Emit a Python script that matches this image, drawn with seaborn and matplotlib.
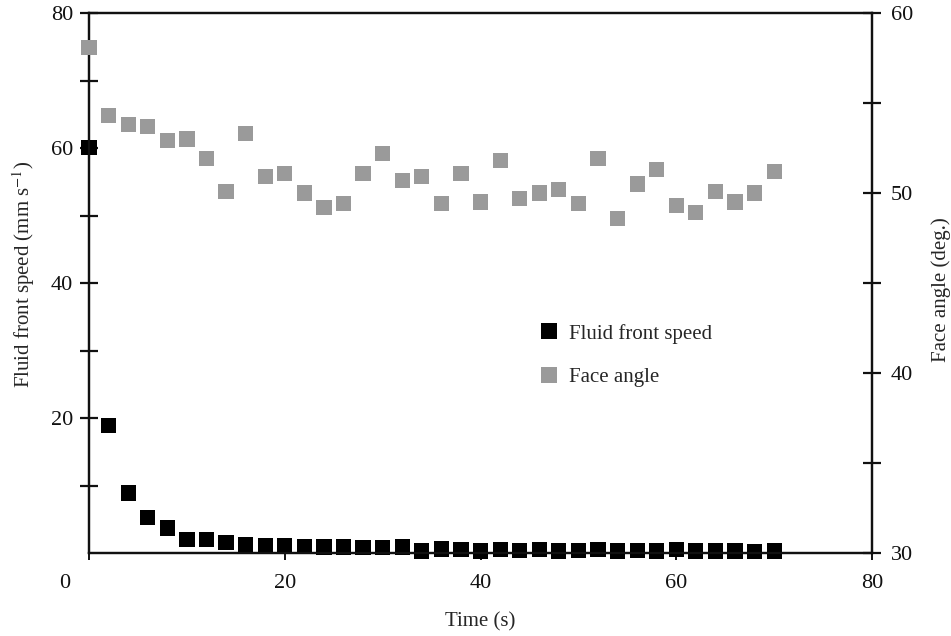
import matplotlib
matplotlib.use("Agg")
import matplotlib.pyplot as plt
import matplotlib.transforms as mtransforms
from matplotlib.ticker import FixedLocator
from matplotlib.lines import Line2D
import seaborn as sns
import pandas as pd

# ---- data ----
time_s = [0, 2, 4, 6, 8, 10, 12, 14, 16, 18, 20, 22, 24, 26, 28, 30, 32, 34,
          36, 38, 40, 42, 44, 46, 48, 50, 52, 54, 56, 58, 60, 62, 64, 66, 68, 70]
front_speed = [60.1, 18.9, 8.9, 5.3, 3.7, 2.0, 2.0, 1.5, 1.3, 1.1, 1.1, 1.0,
               0.9, 0.9, 0.8, 0.8, 0.9, 0.3, 0.6, 0.5, 0.3, 0.5, 0.4, 0.5,
               0.3, 0.4, 0.5, 0.3, 0.4, 0.3, 0.5, 0.3, 0.3, 0.3, 0.2, 0.3]
face_angle = [58.1, 54.3, 53.8, 53.7, 52.9, 53.0, 51.9, 50.1, 53.3, 50.9,
              51.1, 50.0, 49.2, 49.4, 51.1, 52.2, 50.7, 50.9, 49.4, 51.1,
              49.5, 51.8, 49.7, 50.0, 50.2, 49.4, 51.9, 48.6, 50.5, 51.3,
              49.3, 48.9, 50.1, 49.5, 50.0, 51.2]
x_ticks = [0, 20, 40, 60, 80]
left_ticks = [20, 40, 60, 80]
right_ticks = [30, 40, 50, 60]
series_names = ["Fluid front speed", "Face angle"]
x_label = "Time (s)"
left_label = "Fluid front speed (mm s$^{-1}$)"
right_label = "Face angle (deg.)"

df = pd.DataFrame({"t": time_s, "speed": front_speed, "angle": face_angle})

sns.set_style("ticks")
plt.rcParams['font.family'] = ['Liberation Serif', 'DejaVu Serif']
plt.rcParams['mathtext.fontset'] = 'stix'

BLACK = "#000000"
GRAY = "#9a9a9a"
MS = 120
INK = "#111111"

fig = plt.figure(figsize=(9.51, 6.36), dpi=100)
ax1 = fig.add_axes([0.0936, 0.1305, 0.8234, 0.849])
ax2 = ax1.twinx()

sns.scatterplot(data=df, x="t", y="speed", ax=ax1, marker="s", s=MS,
                color=BLACK, edgecolor="none", clip_on=False, zorder=5,
                legend=False)
sns.scatterplot(data=df, x="t", y="angle", ax=ax2, marker="s", s=MS,
                color=GRAY, edgecolor="none", clip_on=False, zorder=5,
                legend=False)

ax1.set_xlim(0, 80)
ax1.set_ylim(0, 80)
ax2.set_ylim(30, 60)

ax1.xaxis.set_major_locator(FixedLocator(x_ticks))
ax1.yaxis.set_major_locator(FixedLocator(left_ticks))
ax1.yaxis.set_minor_locator(FixedLocator([10, 30, 50, 70]))
ax2.yaxis.set_major_locator(FixedLocator(right_ticks))
ax2.yaxis.set_minor_locator(FixedLocator([35, 45, 55]))

for ax in (ax1, ax2):
    for sp in ax.spines.values():
        sp.set_visible(True)
        sp.set_linewidth(1.6)
        sp.set_color(INK)

ax1.tick_params(axis="y", which="both", direction="inout", length=13,
                width=1.6, labelsize=16, pad=5, colors=INK)
ax1.tick_params(axis="x", which="both", direction="inout", length=10,
                width=1.4, labelsize=16, pad=10, colors=INK)
ax2.tick_params(axis="y", which="both", direction="inout", length=13,
                width=1.6, labelsize=16, pad=7, colors=INK)
ax1.tick_params(axis="x", top=False)

ax1.set_xlabel(x_label, fontsize=15, labelpad=14)
ax1.set_ylabel(left_label, fontsize=15)
ax2.set_ylabel(right_label, fontsize=15)
ax1.yaxis.set_label_coords(-0.066, 0.515)
ax2.yaxis.set_label_coords(1.075, 0.487)

# shift the "0" x tick label left, as in the reference
fig.canvas.draw()
lbl0 = ax1.get_xticklabels()[0]
lbl0.set_transform(lbl0.get_transform() +
                   mtransforms.ScaledTranslation(-0.24, 0, fig.dpi_scale_trans))

handles = [Line2D([], [], marker="s", linestyle="none", color=BLACK,
                  markersize=11, markeredgewidth=0),
           Line2D([], [], marker="s", linestyle="none", color=GRAY,
                  markersize=11, markeredgewidth=0)]
ax2.legend(handles, series_names, loc="center left",
           bbox_to_anchor=(0.577, 0.366), frameon=False, fontsize=15,
           handlelength=0.8, handletextpad=0.55, labelspacing=1.15,
           borderaxespad=0, borderpad=0)

fig.savefig("out.png", dpi=100)
